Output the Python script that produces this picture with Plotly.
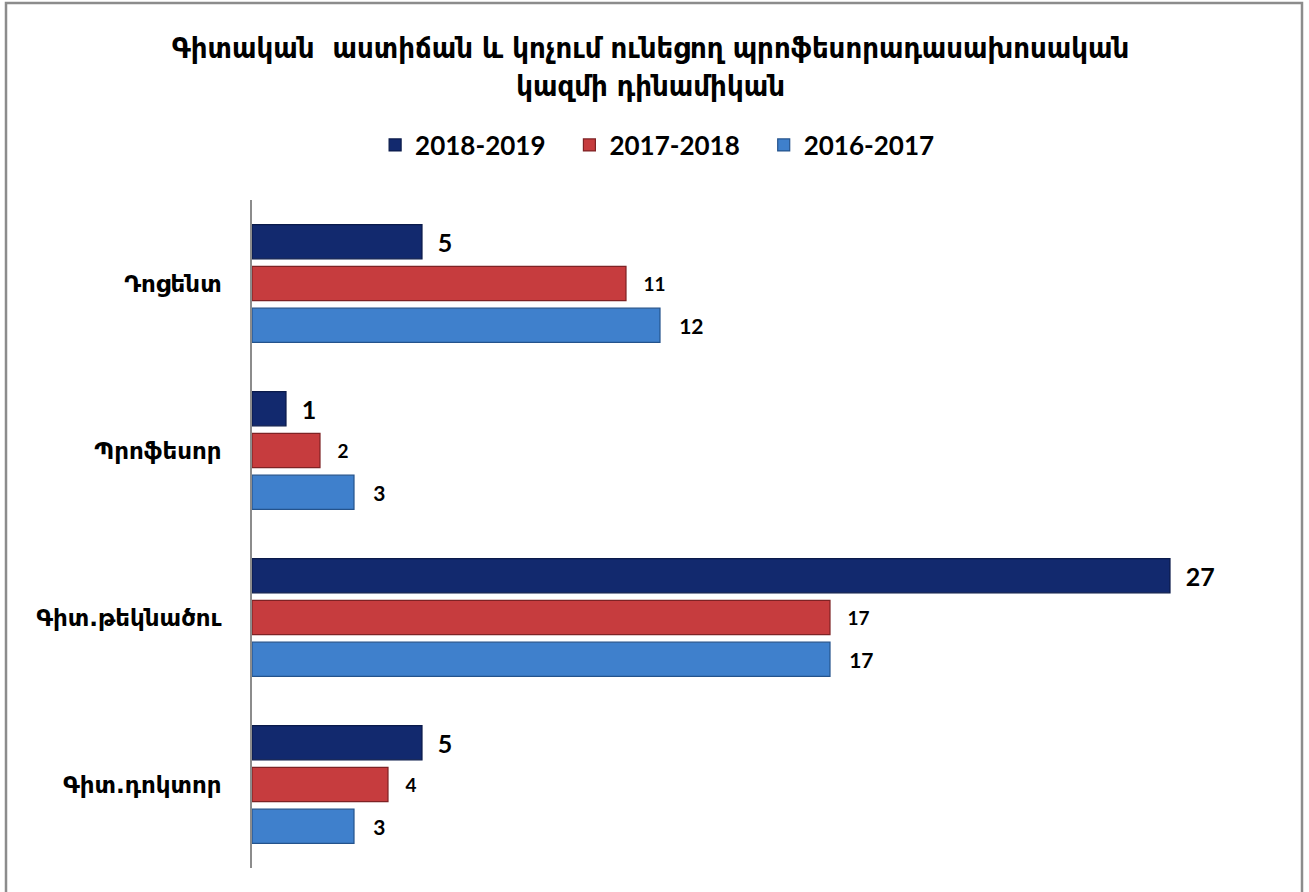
import plotly.graph_objects as go

categories = ["Դոցենտ", "Պրոֆեսոր", "Գիտ.թեկնածու", "Գիտ.դոկտոր"]
series_names = ["2018-2019", "2017-2018", "2016-2017"]
v_2018_2019 = [5, 1, 27, 5]
v_2017_2018 = [11, 2, 17, 4]
v_2016_2017 = [12, 3, 17, 3]

values = [v_2018_2019, v_2017_2018, v_2016_2017]
colors = ["#12296e", "#c63c3e", "#3f80cc"]
edge_colors = ["#0a1a4a", "#7e2224", "#24538c"]
label_sizes = [25, 19, 21]
label_pads = ["\u00a0\u00a0", "\u00a0\u00a0\u00a0", "\u00a0\u00a0\u00a0"]
legend_pads = ["\u00a0\u00a0\u00a0", "\u00a0\u00a0\u00a0", ""]

W, H = 1309, 892
ML, MR, MT, MB = 252, 37, 200, 24
PW, PH = W - ML - MR, H - MT - MB

fig = go.Figure()
for name, vals, c, ec, ls, pad, lp in zip(series_names, values, colors, edge_colors,
                                          label_sizes, label_pads, legend_pads):
    fig.add_trace(go.Bar(
        name=name + lp, y=categories, x=vals, orientation="h",
        marker=dict(color=c, line=dict(color=ec, width=1.2)),
        text=vals, texttemplate=pad + "<b>%{x}</b>", textposition="outside",
        textfont=dict(family="Lato, Open Sans, sans-serif", size=ls, color="#000000"),
        cliponaxis=False, constraintext="none", hoverinfo="skip",
    ))

def px_x(p):
    return (p - ML) / PW

def px_y(p):
    return (H - MB - p) / PH

fig.update_layout(
    width=W, height=H,
    margin=dict(l=ML, r=MR, t=MT, b=MB, autoexpand=False),
    paper_bgcolor="white", plot_bgcolor="white",
    barmode="group", bargap=0.25, bargroupgap=0.18,
    title=dict(
        text="<b>Գիտական  աստիճան և կոչում ունեցող պրոֆեսորադասախոսական<br>կազմի դինամիկան</b>",
        x=0.497, xref="container", xanchor="center",
        y=1 - 58 / H, yref="container", yanchor="middle",
        font=dict(family="DejaVu Sans Condensed, DejaVu Sans, sans-serif", size=29, color="#000000"),
    ),
    legend=dict(
        orientation="h", x=0.502, xref="container", xanchor="center",
        y=1 - 145 / H, yref="container", yanchor="middle",
        font=dict(family="Lato, Open Sans, sans-serif", size=26, color="#000000", weight="bold"),
        traceorder="normal", itemwidth=30,
    ),
    xaxis=dict(range=[0, 30], showgrid=False, showticklabels=False, zeroline=False,
               showline=False, ticks=""),
    yaxis=dict(autorange="reversed", showgrid=False, showline=True, linecolor="#8c8c8c",
               linewidth=1.5, ticks="", ticklabelstandoff=24, automargin=False,
               tickfont=dict(family="DejaVu Sans, sans-serif", size=23, color="#000000", weight="bold")),
    shapes=[dict(type="rect", xref="paper", yref="paper",
                 x0=px_x(6), x1=px_x(1302), y0=px_y(3), y1=px_y(900),
                 line=dict(color="#8c8c8c", width=2.5), fillcolor="rgba(0,0,0,0)", layer="below")],
)

fig.write_html("out.html", config={"displayModeBar": False},
               post_script="document.body.style.margin='0px';")
